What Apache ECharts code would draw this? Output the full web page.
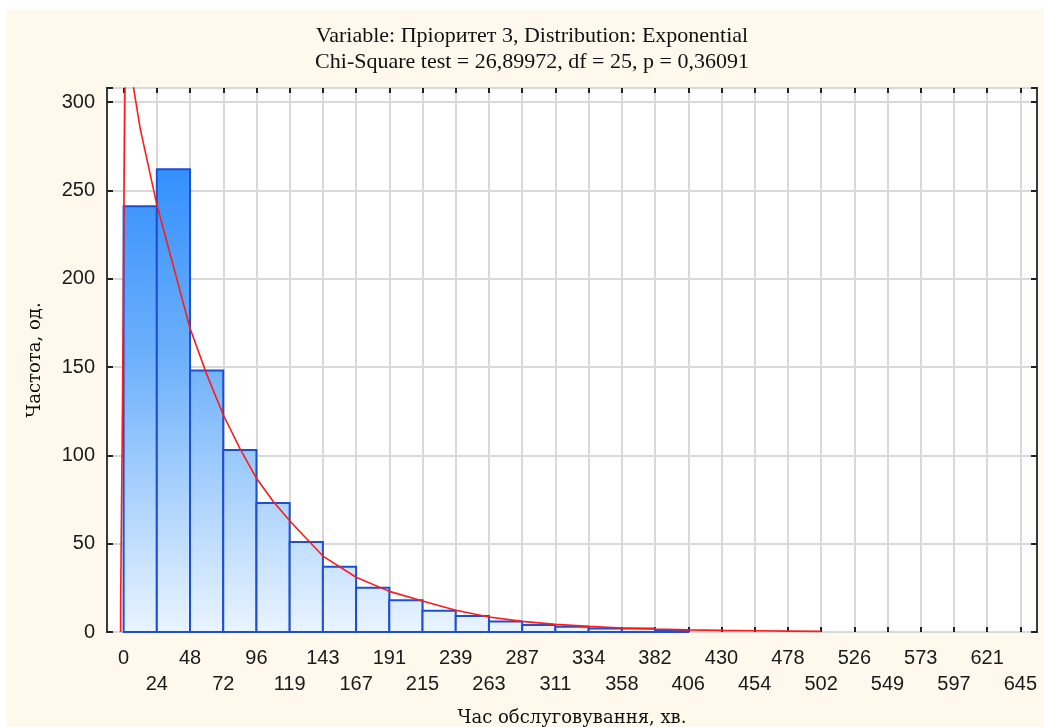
<!DOCTYPE html>
<html>
<head>
<meta charset="utf-8">
<script src="https://cdn.jsdelivr.net/npm/echarts@6/dist/echarts.min.js"></script>
<style>
html,body{margin:0;padding:0;background:#fff;}
#c{width:1044px;height:727px;}
</style>
</head>
<body>
<div id="c"></div>
<script>
// Bin edge tick labels (minutes)
const binLabels = ['0','24','48','72','96','119','143','167','191','215','239','263','287','311','334','358','382','406','430','454','478','502','526','549','573','597','621','645'];
// Observed frequencies per bin (bin index 0 = [0,24))
const binCounts = [241,262,148,103,73,51,37,25,18,12,9,6,4,3,2,2,1];
// Fitted exponential curve (x in bin units, y = expected frequency)
const curveX = [-0.09,-0.09,-0.03,-0.03,0.015,0.015,0.06,0.06,0.31,0.5,1,1.5,2,2.5,3,3.5,4,4.5,5,6,7,8,9,10,11,12,13,14,15,16,17,18,19,20,21];
const curveY = [0,15,15,136,136,257,257,340,307,285,242,207,172,146,123,104,87,74,63,43,31,23,17.5,12.3,8.5,6,4.3,3.2,2.3,1.7,1.2,0.9,0.7,0.5,0.35];
const yTicks = [0,50,100,150,200,250,300];
const titleLines = ['Variable: Пріоритет 3, Distribution: Exponential','Chi-Square test = 26,89972, df = 25, p = 0,36091'];
const xName = 'Час обслуговування, хв.';
const yName = 'Частота, од.';

const tickIdx = binLabels.map((_, i) => i);
const chart = echarts.init(document.getElementById('c'), null, {renderer: 'canvas'});
const gridTop = 88, gridBottom = 632;
const barFill = new echarts.graphic.LinearGradient(0, gridTop, 0, gridBottom, [
  {offset: 0, color: '#1C82FF'},
  {offset: 0.5, color: '#6EB1FB'},
  {offset: 1, color: '#E9F4FF'}
], true);
const gridLine = {show: true, lineStyle: {color: '#D9D9D9', width: 2}};
const labelFont = {fontFamily: 'Liberation Sans, Arial', fontSize: 20, color: '#1a1a1a'};
const nameFont = {fontFamily: 'DejaVu Serif', fontSize: 18, color: '#111'};

chart.setOption({
  animation: false,
  backgroundColor: '#ffffff',
  graphic: [
    {type: 'rect', z: -10, shape: {x: 6, y: 9, width: 1044, height: 727}, style: {fill: '#FEF9EC'}},
    {type: 'text', x: 532, y: 23, style: {text: titleLines.join('\n'), font: '22px "Liberation Serif", "Times New Roman", serif', fill: '#111', align: 'center', verticalAlign: 'top', lineHeight: 26}}
  ],
  grid: {left: 107, right: 7, top: gridTop, bottom: 727 - gridBottom, containLabel: false, outerBoundsMode: 'none', show: true, backgroundColor: '#ffffff', borderColor: '#3a3a3a', borderWidth: 2},
  xAxis: [
    {
      type: 'value', min: -0.5, max: 27.5, position: 'bottom',
      axisLine: {show: false, onZero: false},
      axisTick: {show: true, inside: true, length: 5, customValues: tickIdx, lineStyle: {color: '#222', width: 2}},
      splitLine: gridLine,
      axisLabel: Object.assign({
        customValues: tickIdx, margin: 13, lineHeight: 26,
        formatter: function (v) { const i = Math.round(v); return (i % 2 === 0) ? binLabels[i] : '\n' + binLabels[i]; }
      }, labelFont),
      name: xName, nameLocation: 'middle', nameGap: 77,
      nameTextStyle: nameFont
    },
    {
      type: 'value', min: -0.5, max: 27.5, position: 'top',
      axisLine: {show: false, onZero: false},
      axisTick: {show: true, inside: true, length: 5, customValues: tickIdx, lineStyle: {color: '#222', width: 2}},
      axisLabel: {show: false, customValues: tickIdx},
      splitLine: {show: false}
    }
  ],
  yAxis: [
    {
      type: 'value', min: 0, max: 308, interval: 50, position: 'left',
      axisLine: {show: false, onZero: false},
      axisTick: {show: true, inside: true, length: 6, lineStyle: {color: '#222', width: 2}},
      splitLine: gridLine,
      axisLabel: Object.assign({margin: 12, customValues: yTicks}, labelFont),
      name: yName, nameLocation: 'middle', nameGap: 63, nameRotate: 90,
      nameTextStyle: nameFont
    },
    {
      type: 'value', min: 0, max: 308, interval: 50, position: 'right',
      axisLine: {show: false, onZero: false},
      axisTick: {show: true, inside: true, length: 6, lineStyle: {color: '#222', width: 2}},
      axisLabel: {show: false},
      splitLine: {show: false}
    }
  ],
  series: [
    {
      type: 'custom', xAxisIndex: 0, yAxisIndex: 0, z: 2,
      data: binCounts.map((c, i) => [i, c]),
      encode: {x: 0, y: 1},
      renderItem: function (params, api) {
        const i = api.value(0), v = api.value(1);
        const p0 = api.coord([i, v]);
        const p1 = api.coord([i + 1, 0]);
        return {type: 'rect', shape: {x: p0[0], y: p0[1], width: p1[0] - p0[0], height: p1[1] - p0[1]},
          style: {fill: barFill, stroke: '#1F4FCF', lineWidth: 2}};
      }
    },
    {
      type: 'line', xAxisIndex: 0, yAxisIndex: 0, z: 5,
      data: curveX.map((x, i) => [x, curveY[i]]),
      showSymbol: false, symbol: 'none', smooth: false, clip: true,
      lineStyle: {color: '#FF1A1A', width: 1.6}
    }
  ]
});
</script>
</body>
</html>
